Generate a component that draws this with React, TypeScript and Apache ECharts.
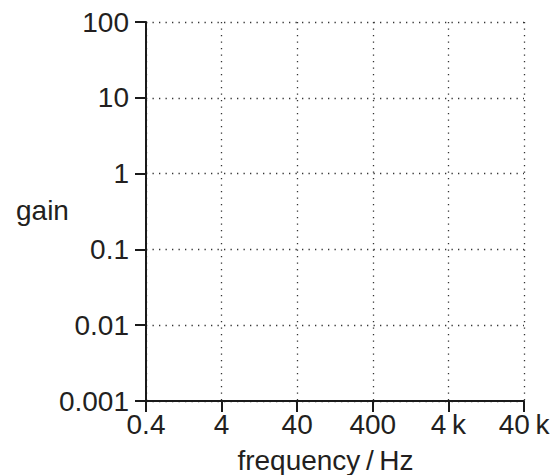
import React, { useEffect, useRef } from "react";
import * as echarts from "echarts";

const xTickLabels = ["0.4", "4", "40", "400", "4\u2009k", "40\u2009k"];
const yTickLabels = ["0.001", "0.01", "0.1", "1", "10", "100"];
const xTitle = "frequency\u2009/\u2009Hz";
const yTitle = "gain";

const FONT = "'Liberation Sans', Arial, Helvetica, sans-serif";
const FS = 28;

export default function App() {
  const ref = useRef<HTMLDivElement>(null);
  useEffect(() => {
    if (!ref.current) return;
    const chart = echarts.init(ref.current, null, { renderer: "svg" });
    const gridLine = { show: true, lineStyle: { color: "#333", width: 1.3, type: [1.3, 5.2] as any } };
    const axisLine = { show: true, onZero: false, lineStyle: { color: "#1a1a1a", width: 2 } };
    const axisTick = { show: true, length: 11, lineStyle: { color: "#1a1a1a", width: 2 } };
    chart.setOption({
      animation: false,
      backgroundColor: "#fff",
      grid: { left: 146, right: 29, top: 22, bottom: 74, containLabel: false, outerBoundsMode: "none" },
      xAxis: {
        type: "category",
        data: xTickLabels,
        boundaryGap: false,
        axisLine,
        axisTick: { ...axisTick, alignWithLabel: true },
        axisLabel: { color: "#231f20", fontSize: FS, fontFamily: FONT, margin: 9, interval: 0 },
        splitLine: { ...gridLine, interval: 0 },
      },
      yAxis: {
        type: "category",
        data: yTickLabels,
        boundaryGap: false,
        axisLine,
        axisTick,
        axisLabel: { color: "#231f20", fontSize: FS, fontFamily: FONT, margin: 17, interval: 0 },
        splitLine: { ...gridLine, interval: 0 },
      },
      graphic: [
        {
          type: "text",
          left: 16,
          top: 196,
          style: { text: yTitle, fontSize: FS, fontFamily: FONT, fill: "#231f20" },
        },
        {
          type: "text",
          x: 325.5,
          y: 460,
          style: { text: xTitle, fontSize: FS, fontFamily: FONT, fill: "#231f20", align: "center", verticalAlign: "middle" },
        },
      ],
      series: [{ type: "line", data: [] }],
    });
    return () => chart.dispose();
  }, []);
  return <div ref={ref} style={{ position: "fixed", left: 0, top: 0, width: 553, height: 475 }} />;
}
